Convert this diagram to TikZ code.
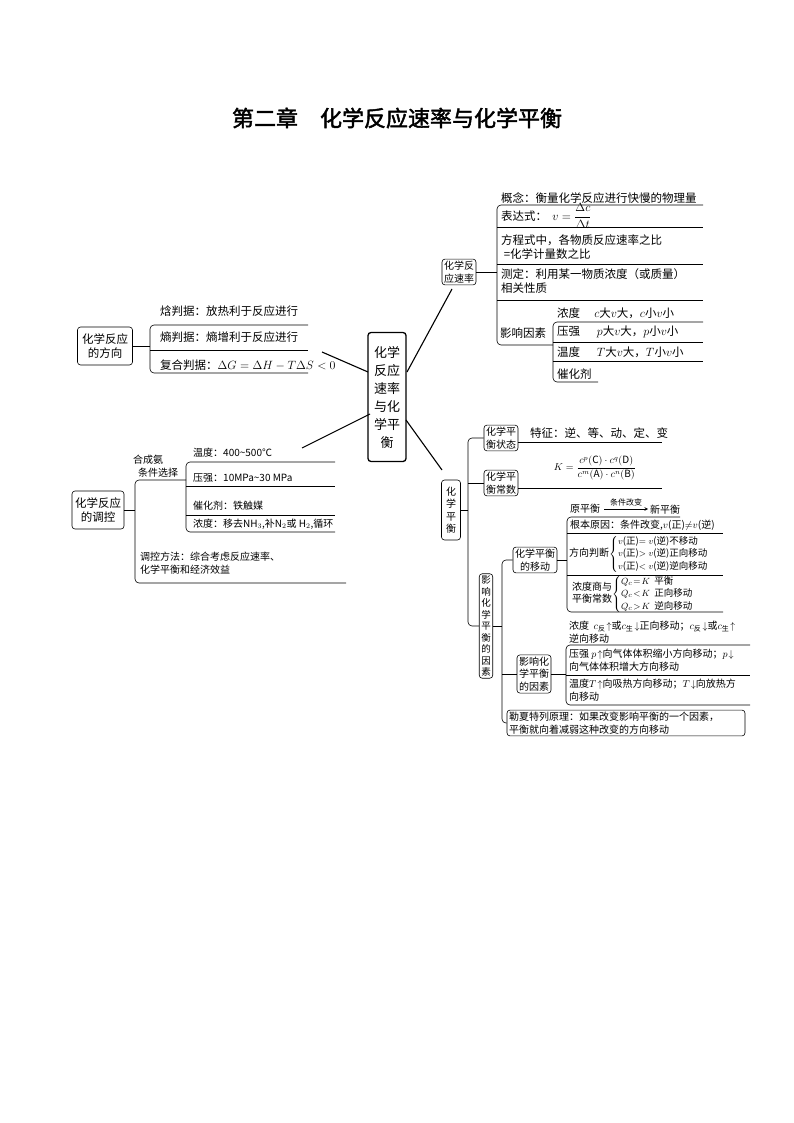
\documentclass[tikz,border=0pt]{standalone}
\usepackage{amsmath}
\usepackage{fontspec}
\setmainfont{Noto Sans CJK SC}
\newfontfamily\titlefont[FakeBold=2]{Noto Sans CJK SC}
\newcommand{\fa}{\fontsize{11.5}{14.5}\selectfont}
\newcommand{\fb}{\fontsize{10}{12.5}\selectfont}
\newcommand{\fc}{\fontsize{9.5}{11.5}\selectfont}
\begin{document}
\begin{tikzpicture}[x=1pt,y=-1pt,
  every node/.style={inner sep=0pt,font=\fa},
  box/.style={draw,rounded corners=3pt,inner sep=2pt,line width=0.6pt,align=center},
  ln/.style={line width=0.6pt},
  br/.style={line width=0.6pt,rounded corners=4pt},
  txt/.style={anchor=west,align=left}]
\useasboundingbox (0,0) rectangle (794,1123);
\node[font=\fontsize{22}{26}\selectfont\titlefont] (title) at (397,118) {第二章\quad 化学反应速率与化学平衡};

% central
\node[box,line width=1.3pt,minimum width=38pt,minimum height=129pt,font=\fontsize{13}{18}\selectfont] (c) at (387,397) {化学\\反应\\速率\\与化\\学平\\衡};
\coordinate (c1) at (407,372); \coordinate (e1) at (452,289);
\coordinate (c2) at (368,372); \coordinate (e2) at (322,352);
\coordinate (c3) at (370,414); \coordinate (e3) at (302,448);
\coordinate (c4) at (406,420); \coordinate (e4) at (442,470);
\draw[line width=1.1pt] (c1)--(e1) (c2)--(e2) (c3)--(e3) (c4)--(e4);

% rate
\node[box,font=\fb] (rate) at (459,272) {化学反\\应速率};
\draw[ln] (rate.east)--(497,272);
\draw[br] (703,205)--(497,205)--(497,345)--(553,345);
\draw[ln] (497,227)--(703,227) (497,264)--(703,264) (497,300)--(703,300);
\draw[br] (703,322)--(553,322)--(553,382)--(598,382);
\draw[ln] (553,342)--(703,342) (553,361)--(703,361);
\node[txt] (r1) at (501,198) {概念：衡量化学反应进行快慢的物理量};
\node[txt] (r2) at (501,216) {表达式：\ \ $v=\dfrac{\Delta c}{\Delta t}$};
\node[txt] (r3) at (501,247) {方程式中，各物质反应速率之比\\\ =化学计量数之比};
\node[txt] (r4) at (501,281) {测定：利用某一物质浓度（或质量）\\相关性质};
\node[txt] (r5) at (500,333) {影响因素};
\node[txt] (r6) at (557,313) {浓度\quad\ $c$大$v$大，$c$小$v$小};
\node[txt] (r7) at (557,332) {压强\quad\ \ $p$大$v$大，$p$小$v$小};
\node[txt] (r8) at (557,352) {温度\quad\ \ $T$大$v$大，$T$小$v$小};
\node[txt] (r9) at (557,374) {催化剂};

% direction
\node[box,font=\fa,minimum width=55pt,minimum height=38pt] (dir) at (105,346) {化学反应\\的方向};
\draw[ln] (dir.east)--(150,346);
\draw[br] (308,325)--(150,325)--(150,373)--(308,373);
\draw[ln] (150,350)--(308,350);
\node[txt] (d1) at (160,311) {焓判据：放热利于反应进行};
\node[txt] (d2) at (160,337) {熵判据：熵增利于反应进行};
\node[txt] (d3) at (160,365) {复合判据：$\Delta G=\Delta H-T\Delta S<0$};

% regulation
\node[box,font=\fa,minimum width=52pt,minimum height=38pt] (reg) at (98,510) {化学反应\\的调控};
\draw[ln] (reg.east)--(135,510);
\draw[br] (186,480)--(135,480)--(135,583)--(346,583);
\draw[br] (335,462)--(186,462)--(186,532)--(335,532);
\draw[ln] (186,486)--(335,486) (186,515)--(335,515);
\node[txt,font=\fb] (g1) at (133,460) {合成氨};
\node[txt,font=\fb] (g2) at (138,473) {条件选择};
\node[txt,font=\fb] (g3) at (193,453) {温度：400\textasciitilde 500℃};
\node[txt,font=\fb] (g4) at (193,478) {压强：10MPa\textasciitilde 30 MPa};
\node[txt,font=\fb] (g5) at (193,506) {催化剂：铁触媒};
\node[txt,font=\fb] (g6) at (193,524) {浓度：移去NH$_3$,补N$_2$或 H$_2$,循环};
\node[txt,font=\fb] (g7) at (140,563) {调控方法：综合考虑反应速率、\\化学平衡和经济效益};

% equilibrium
\node[box,font=\fb,minimum width=19pt,minimum height=60pt] (eq) at (451,510) {化\\学\\平\\衡};
\draw[ln] (eq.east)--(468,510);
\node[box,font=\fb] (st) at (501,438) {化学平\\衡状态};
\node[box,font=\fb] (kc) at (501,483) {化学平\\衡常数};
\node[box,font=\fc,inner sep=2pt,minimum height=100pt] (inf) at (486,626) {影\\响\\化\\学\\平\\衡\\的\\因\\素};
\draw[br] (st.west)--(468,438)--(468,626)--(inf.west);
\draw[ln] (468,483)--(kc.west);
\draw[ln] (st.east|-0,442)--(662,442);
\draw[ln] (kc.east|-0,488)--(662,488);
\node[txt] (s1) at (530,433) {特征：逆、等、动、定、变};
\node[font=\fb] (k1) at (595,468) {$K=\dfrac{c^p(\mathrm{C})\cdot c^q(\mathrm{D})}{c^m(\mathrm{A})\cdot c^n(\mathrm{B})}$};

\node[box,font=\fb] (mv) at (535,560) {化学平衡\\的移动};
\node[box,font=\fb] (fac) at (534,674) {影响化\\学平衡\\的因素};
\node[box,font=\fb,align=left,text width=234pt] (le) at (626,723) {勒夏特列原理：如果改变影响平衡的一个因素，\\平衡就向着减弱这种改变的方向移动};
\draw[br] (mv.west)--(502,560)--(502,723)--(le.west);
\draw[ln] (inf.east)--(502,626) (502,674)--(fac.west);

\draw[ln] (mv.east)--(567,560);
\draw[br] (680,517)--(567,517)--(567,612)--(723,612);
\draw[ln] (567,533)--(723,533) (567,575)--(723,575);
\node[txt,font=\fb] (m1) at (570,509) {原平衡};
\draw[ln,-stealth] (604,509)--(648,509);
\node[font=\fontsize{8}{9}\selectfont] (m1a) at (626,502) {条件改变};
\node[txt,font=\fb] (m1b) at (650,510) {新平衡};
\node[txt,font=\fb] (m2) at (570,525) {根本原因：条件改变,$v$(正)${\neq}v$(逆)};
\node[txt,font=\fb] (m3) at (569,554) {方向判断$\left\{\begin{tabular}{@{}l@{}}\fc$v$(正)$=v$(逆)不移动\\\fc$v$(正)$>v$(逆)正向移动\\\fc$v$(正)$<v$(逆)逆向移动\end{tabular}\right.$};
\node[txt,font=\fb] (m4) at (572,594) {\begin{tabular}{@{}c@{}}浓度商与\\平衡常数\end{tabular}$\left\{\begin{tabular}{@{}l@{}}\fc$Q_c\!=\!K$\ \ 平衡\\\fc$Q_c\!<\!K$\ \ 正向移动\\\fc$Q_c\!>\!K$\ \ 逆向移动\end{tabular}\right.$};

\draw[ln] (fac.east)--(566,674);
\draw[br] (750,645)--(566,645)--(566,705)--(750,705);
\draw[ln] (566,675)--(750,675);
\node[txt,font=\fb] (f1) at (569,632) {浓度\ \ $c_{\text{反}}\!\uparrow$或$c_{\text{生}}\!\downarrow$正向移动；$c_{\text{反}}\!\downarrow$或$c_{\text{生}}\!\uparrow$\\逆向移动};
\node[txt,font=\fb] (f2) at (569,660) {压强 $p\!\uparrow$向气体体积缩小方向移动；$p\!\downarrow$\\向气体体积增大方向移动};
\node[txt,font=\fb] (f3) at (569,690) {温度$T\!\uparrow$向吸热方向移动；$T\!\downarrow$向放热方\\向移动};
\end{tikzpicture}
\end{document}
